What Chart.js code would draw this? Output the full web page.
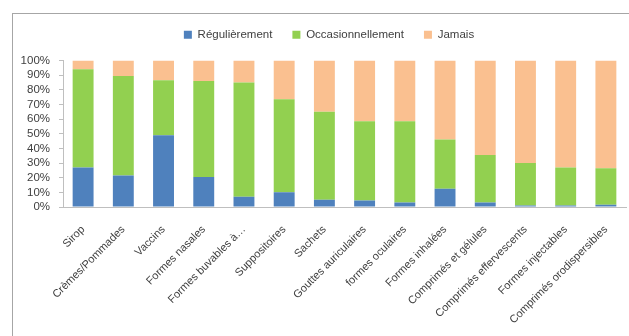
<!DOCTYPE html>
<html>
<head>
<meta charset="utf-8">
<script src="https://cdn.jsdelivr.net/npm/chart.js@4"></script>
<style>
  html, body { margin: 0; padding: 0; background: #fff; }
  #wrap { position: relative; width: 629px; height: 336px; overflow: hidden; }
  #frame { position: absolute; left: 12px; top: 13px; width: 700px; height: 400px;
           border-left: 1px solid #a6a6a6; border-top: 1px solid #a6a6a6; }
  canvas { position: absolute; left: 0; top: 0; }
</style>
</head>
<body>
<div id="wrap">
  <div id="frame"></div>
  <canvas id="chart" width="629" height="336"></canvas>
</div>
<script>
// Catégories (formes galéniques)
const categories = [
  'Sirop', 'Crèmes/Pommades', 'Vaccins', 'Formes nasales', 'Formes buvables à…',
  'Suppositoires', 'Sachets', 'Gouttes auriculaires', 'formes oculaires',
  'Formes inhalées', 'Comprimés et gélules', 'Comprimés effervescents',
  'Formes injectables', 'Comprimés orodispersibles'
];

// Valeurs en %
const regulierement = [27, 21.5, 49, 20.5, 7, 10, 5, 4.5, 3, 12.5, 3, 1, 1, 1.5];
const occasionnellement = [67, 68, 37.5, 65.5, 78, 63.5, 60, 54, 55.5, 33.5, 32.5, 29, 26, 25];
const jamais = [6, 10.5, 13.5, 14, 15, 26.5, 35, 41.5, 41.5, 54, 64.5, 70, 73, 73.5];

// Graduations de l'axe Y
const yMin = 0;
const yMax = 100;
const yStep = 10;

const COLORS = {
  blue: '#4f81bd',
  green: '#92d050',
  peach: '#fac090',
  text: '#404040',
  axis: '#bfbfbf',
};

const FONT = { family: "'Liberation Sans', Arial, sans-serif", size: 11.5 };
const XFONT = { family: "'Liberation Sans', Arial, sans-serif", size: 11 };

// décale la légende (centrée comme dans Excel)
const legendShift = {
  id: 'legendShift',
  afterLayout(chart) {
    const lg = chart.legend;
    if (!lg) return;
    lg.left += 16;
    lg.right += 16;
    lg.top -= 10;
    lg.bottom -= 10;
    lg.adjustHitBoxes && lg.adjustHitBoxes();
  },
};

const ctx = document.getElementById('chart').getContext('2d');

new Chart(ctx, {
  type: 'bar',
  data: {
    labels: categories,
    datasets: [
      { label: 'Régulièrement', data: regulierement, backgroundColor: COLORS.blue },
      { label: 'Occasionnellement', data: occasionnellement, backgroundColor: COLORS.green },
      { label: 'Jamais', data: jamais, backgroundColor: COLORS.peach },
    ],
  },
  plugins: [legendShift],
  options: {
    responsive: false,
    animation: false,
    layout: { padding: { left: 0, right: 3, top: 19, bottom: 0 } },
    datasets: {
      bar: { categoryPercentage: 1, barPercentage: 0.52, borderWidth: 0 },
    },
    plugins: {
      tooltip: { enabled: false },
      legend: {
        position: 'top',
        labels: {
          color: COLORS.text,
          font: FONT,
          boxWidth: 8,
          boxHeight: 8,
          padding: 20,
        },
      },
    },
    scales: {
      x: {
        stacked: true,
        grid: { display: false },
        border: { display: true, color: COLORS.axis, width: 1 },
        ticks: {
          color: COLORS.text,
          font: XFONT,
          minRotation: 45,
          maxRotation: 45,
          autoSkip: false,
          padding: 8,
        },
        afterFit: (scale) => { scale.height = 129; },
      },
      y: {
        stacked: true,
        min: yMin,
        max: yMax,
        grid: { drawOnChartArea: false, drawTicks: true, tickLength: 4, color: COLORS.axis },
        border: { display: true, color: COLORS.axis, width: 1 },
        ticks: {
          stepSize: yStep,
          autoSkip: false,
          color: COLORS.text,
          font: FONT,
          padding: 9,
          callback: (val) => `${val}%`,
        },
        afterFit: (scale) => { scale.width = 63; },
      },
    },
  },
});
</script>
</body>
</html>
